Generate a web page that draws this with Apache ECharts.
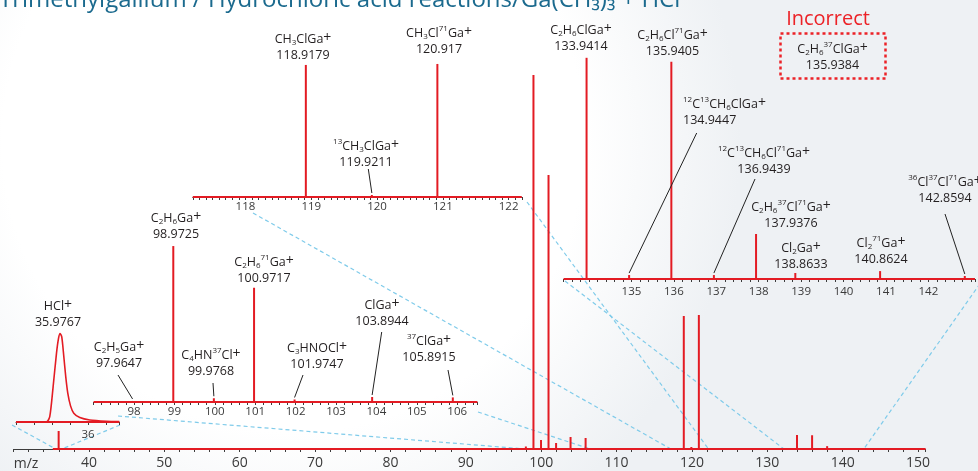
<!DOCTYPE html>
<html><head><meta charset="utf-8">
<script src="https://cdn.jsdelivr.net/npm/echarts@6/dist/echarts.min.js"></script>
<style>html,body{margin:0;padding:0;background:#fff}#c{width:978px;height:471px}</style>
</head><body><div id="c"></div>
<script>
// ---------------- DATA ----------------
const peakMz  = [35.9767, 97.9647, 98.9725, 99.9768, 100.9717, 101.9747, 103.8944, 105.8915,
                 118.9179, 119.9211, 120.917, 133.9414, 134.9447, 135.9405, 136.9439, 137.9376,
                 138.8633, 140.8624, 142.8594];
const peakInt = [18, 2.5, 374, 9, 274, 6, 12, 11,
                 133, 2, 134, 14, 0.25, 13.75, 0.25, 2.85,
                 0.38, 0.5, 0.19];
const peakFormula = ['HCl+', 'C_2H_5Ga+', 'C_2H_6Ga+', 'C_4HN^{37}Cl+', 'C_2H_6^{71}Ga+', 'C_3HNOCl+', 'ClGa+', '^{37}ClGa+',
                 'CH_3ClGa+', '^{13}CH_3ClGa+', 'CH_3Cl^{71}Ga+', 'C_2H_6ClGa+', '^{12}C^{13}CH_6ClGa+', 'C_2H_6Cl^{71}Ga+',
                 '^{12}C^{13}CH_6Cl^{71}Ga+', 'C_2H_6^{37}Cl^{71}Ga+', 'Cl_2Ga+', 'Cl_2^{71}Ga+', '^{36}Cl^{37}Cl^{71}Ga+'];
const incorrectFormula = 'C_2H_6^{37}ClGa+';
const incorrectMz = '135.9384';
// HCl peak profile
const hclMz  = [35.94, 35.9654, 35.9681, 35.9709, 35.9737, 35.9754, 35.9767, 35.9781, 35.9798, 35.9814,
                35.9831, 35.9854, 35.9881, 35.9931, 36.0014, 36.0153, 36.026];
const hclInt = [0, 0.06, 1.08, 7.2, 14.05, 17.1, 18.1, 17.4, 13.4, 9.3,
                5.9, 3.3, 1.8, 0.9, 0.4, 0.15, 0.1];
// baseline extents of the traces
const mainTraceRange = [35.2, 151];
// tick labels
const mainTickLabels  = [40, 50, 60, 70, 80, 90, 100, 110, 120, 130, 140, 150];
const midTickLabels   = [98, 99, 100, 101, 102, 103, 104, 105, 106];
const topTickLabels   = [118, 119, 120, 121, 122];
const rightTickLabels = [135, 136, 137, 138, 139, 140, 141, 142];
const hclTickLabels   = [36];
// zoom-link lines: main-axis end points (m/z)
const linkToMz = [35.6, 36.4, 97.9, 106.5, 117.2, 122.2, 132.2, 142.8];

// ---------------- LAYOUT ----------------
const RED = '#e31b23';
const FONT = '"Open Sans","Noto Sans",sans-serif';
const grids = [
  {left: 13.6, top: 49, width: 912, height: 400},
  {left: 93.6, top: 232, width: 383.8, height: 170},
  {left: 192.8, top: 57, width: 329, height: 140},
  {left: 563.6, top: 39, width: 414.7, height: 240},
  {left: 16, top: 322, width: 103.3, height: 100}
];
const xRanges = [[30, 151, 2], [97, 106.5, 0.2], [117.2, 122.2, 0.1], [133.4, 143.1, 0.2], [35.94, 36.026, 0.015]];
const yMax = [400, 407.7, 141, 15.19, 20.45];
const tickSets = [mainTickLabels, midTickLabels, topTickLabels, rightTickLabels, hclTickLabels];
const tickFont = [14, 11.5, 11.5, 11.5, 11.5];
const tickMargin = [7, 4, 4, 7, 7];
// label layout per peak: grid, centre x, formula-line centre y, align, leader start
const labelLayout = [
  {g: 4, x: 58, y: 306},
  {g: 1, x: 119, y: 347, lf: [118, 375]},
  {g: 1, x: 176, y: 218},
  {g: 1, x: 211, y: 355, lf: [213, 383]},
  {g: 1, x: 264, y: 262},
  {g: 1, x: 317, y: 348, lf: [303, 375]},
  {g: 1, x: 382, y: 305, lf: [381.7, 332]},
  {g: 1, x: 429, y: 341, lf: [448, 370]},
  {g: 2, x: 303, y: 39},
  {g: 2, x: 366, y: 146, lf: [368.3, 169]},
  {g: 2, x: 439, y: 33},
  {g: 3, x: 581, y: 30},
  {g: 3, x: 683, y: 104, align: 'left', lf: [696.7, 133]},
  {g: 3, x: 672.5, y: 35},
  {g: 3, x: 764, y: 153, lf: [755, 179]},
  {g: 3, x: 791, y: 207},
  {g: 3, x: 801, y: 248},
  {g: 3, x: 881, y: 243},
  {g: 3, x: 945, y: 182, lf: [945, 214]}
];
const linkFrom = [[12, 425], [120, 425], [118, 416], [478, 412], [253, 213], [527, 202], [565, 281], [984, 278]];

// ---------------- HELPERS ----------------
const rich = {
  b: {fontSize: 12.5, lineHeight: 16, fontFamily: FONT, fill: '#231f20'},
  s: {fontSize: 8, lineHeight: 8, verticalAlign: 'bottom', fontFamily: FONT, fill: '#231f20'},
  u: {fontSize: 8, lineHeight: 8, verticalAlign: 'top', fontFamily: FONT, fill: '#231f20'},
  p: {fontSize: 14, lineHeight: 10, verticalAlign: 'top', fontFamily: FONT, fill: '#231f20'}
};
function toRich(f) {
  let out = '', i = 0, buf = '';
  const flush = () => { if (buf) { out += '{b|' + buf + '}'; buf = ''; } };
  while (i < f.length) {
    const c = f[i];
    if (c === '_' ) { flush(); let j = i + 1, d = ''; while (j < f.length && /[0-9]/.test(f[j])) d += f[j++]; out += '{s|' + d + '}'; i = j; }
    else if (c === '^') { flush(); let j = i + 2, d = ''; while (f[j] !== '}') d += f[j++]; out += '{u|' + d + '}'; i = j + 1; }
    else if (c === '+') { flush(); out += '{p|+}'; i++; }
    else { buf += c; i++; }
  }
  flush();
  return out;
}
function fmt(set) {
  return v => { const t = set.find(t => Math.abs(t - v) < 1e-6); return t === undefined ? '' : String(t); };
}

// ---------------- OPTION ----------------
const xAxis = [], yAxis = [], series = [];
grids.forEach((gr, g) => {
  xAxis.push({
    type: 'value', gridIndex: g, min: xRanges[g][0], max: xRanges[g][1], interval: xRanges[g][2],
    splitLine: {show: false},
    axisLine: {show: true, onZero: false, lineStyle: {color: '#3c3c3c', width: 1}},
    axisTick: {show: true, length: 3, inside: false, lineStyle: {color: '#3c3c3c', width: 1}},
    axisLabel: {show: true, formatter: fmt(tickSets[g]), fontSize: tickFont[g], color: '#3a3a3a',
                margin: tickMargin[g], fontFamily: FONT, showMinLabel: true, showMaxLabel: true}
  });
  yAxis.push({type: 'value', gridIndex: g, min: 0, max: yMax[g], show: false});
  const lo = xRanges[g][0], hi = xRanges[g][1];
  const base = g === 0 ? mainTraceRange : [lo, hi];
  series.push({type: 'line', xAxisIndex: g, yAxisIndex: g, data: [[base[0], 0], [base[1], 0]],
    symbol: 'none', silent: true, z: 3, lineStyle: {color: RED, width: 2.2}});
  if (g === 4) {
    series.push({type: 'line', xAxisIndex: g, yAxisIndex: g, smooth: 0.25, symbol: 'none', silent: true, z: 4,
      data: hclMz.map((m, i) => [m, hclInt[i]]), lineStyle: {color: RED, width: 1.6}});
  } else {
    const d = [];
    peakMz.forEach((m, i) => { if (m > lo && m < hi) d.push([m, peakInt[i]]); });
    series.push({type: 'bar', xAxisIndex: g, yAxisIndex: g, data: d, barWidth: 2, silent: true, z: 4,
      clip: true, itemStyle: {color: RED}});
  }
});

const chart = echarts.init(document.getElementById('c'));
chart.setOption({
  animation: false,
  backgroundColor: {type: 'radial', x: 0.3, y: 0.3, r: 0.95,
    colorStops: [{offset: 0, color: '#ffffff'}, {offset: 0.65, color: '#ffffff'}, {offset: 1, color: '#eef1f4'}]},
  grid: grids.map(g => Object.assign({containLabel: false}, g)),
  xAxis, yAxis, series
});

// ---------------- ANNOTATIONS ----------------
const gfx = [];
// title (cropped at top)
gfx.push({type: 'text', z: 1, style: {text: 'Trimethylgallium / Hydrochloric acid reactions/Ga(CH\u2083)\u2083 + HCl',
  x: -1, y: 12, verticalAlign: 'bottom', align: 'left', fontSize: 24, fontFamily: FONT, fill: '#1b6a8e'}});
// zoom links
linkFrom.forEach((p, i) => {
  const e = chart.convertToPixel({gridIndex: 0}, [linkToMz[i], 0]);
  gfx.push({type: 'line', z: 0, silent: true, shape: {x1: p[0], y1: p[1], x2: e[0], y2: e[1]},
    style: {stroke: '#7fcbea', lineWidth: 1.2, lineDash: [4, 3]}});
});
// peak labels
labelLayout.forEach((L, i) => {
  const txt = toRich(peakFormula[i]) + '\n{b|' + String(peakMz[i]) + '}';
  gfx.push({type: 'text', z: 50, style: {text: txt, rich, x: L.x, y: L.y - 8, align: L.align || 'center',
    verticalAlign: 'top', fontFamily: FONT, fontSize: 12.5, fill: '#231f20'}});
  if (L.lf) {
    const e = chart.convertToPixel({gridIndex: L.g}, [peakMz[i], peakInt[i]]);
    gfx.push({type: 'line', z: 50, silent: true, shape: {x1: L.lf[0], y1: L.lf[1], x2: e[0], y2: e[1] - 2},
      style: {stroke: '#222', lineWidth: 1}});
  }
});
// "Incorrect" box
gfx.push({type: 'text', z: 50, style: {text: 'Incorrect', x: 828, y: 19, align: 'center', verticalAlign: 'middle',
  fontSize: 20, fontFamily: FONT, fill: '#ec2227'}});
gfx.push({type: 'rect', z: 50, shape: {x: 780.5, y: 33.5, width: 105, height: 45},
  style: {fill: 'none', stroke: '#ec2227', lineWidth: 2.5, lineDash: [3, 3]}});
gfx.push({type: 'text', z: 50, style: {text: toRich(incorrectFormula) + '\n{b|' + incorrectMz + '}', rich,
  x: 832.5, y: 49 - 8, align: 'center', verticalAlign: 'top', fontFamily: FONT, fontSize: 12.5, fill: '#231f20'}});
// m/z axis name
gfx.push({type: 'text', z: 50, style: {text: 'm/z', x: 26, y: 464, align: 'center', verticalAlign: 'middle',
  fontSize: 14, fontFamily: FONT, fill: '#3a3a3a'}});
chart.setOption({graphic: gfx});
</script></body></html>
